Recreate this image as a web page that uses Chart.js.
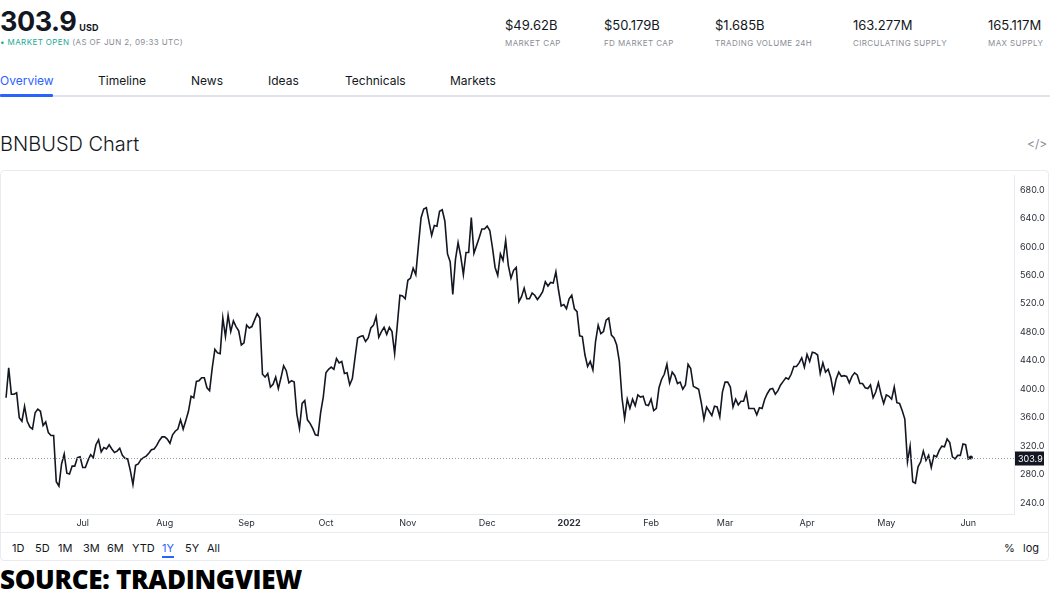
<!DOCTYPE html>
<html>
<head>
<meta charset="utf-8">
<script src="https://cdn.jsdelivr.net/npm/chart.js@4.4.1/dist/chart.umd.min.js"></script>
<style>
  body { margin: 0; width: 1050px; height: 600px; background: #fff; font-family: Inter, "Noto Sans", sans-serif; color: #131722; position: relative; overflow: hidden; }
  .abs { position: absolute; white-space: nowrap; }
  .stat-v { font-size: 13px; top: 17px; }
  .stat-l { font-size: 8px; top: 38px; color: #8a8d97; letter-spacing: 0.4px; }
  .tab { font-size: 12px; top: 73px; color: #131722; }
  .rng { font-size: 11px; top: 541px; color: #131722; }
  #box { position: absolute; left: 0; top: 170px; width: 1047px; height: 389px; border: 1px solid #e9ebf0; border-radius: 4px; }
  #wrap { position: absolute; left: 1px; top: 171px; width: 1047px; height: 361px; }
</style>
</head>
<body>
<div class="abs" style="left:0;top:5px;font-size:27px;font-weight:700;letter-spacing:-0.5px;">303.9<span style="font-size:9px;font-weight:700;margin-left:3px;letter-spacing:0.2px;">USD</span></div>
<div class="abs" style="left:0;top:37px;font-size:8px;letter-spacing:0.4px;"><span style="color:#22ab94;">• MARKET OPEN</span> <span style="color:#8a8d97;">(AS OF JUN 2, 09:33 UTC)</span></div>

<div class="abs stat-v" style="left:505px;">$49.62B</div><div class="abs stat-l" style="left:505px;">MARKET CAP</div>
<div class="abs stat-v" style="left:604px;">$50.179B</div><div class="abs stat-l" style="left:604px;">FD MARKET CAP</div>
<div class="abs stat-v" style="left:715px;">$1.685B</div><div class="abs stat-l" style="left:715px;">TRADING VOLUME 24H</div>
<div class="abs stat-v" style="left:853px;">163.277M</div><div class="abs stat-l" style="left:853px;">CIRCULATING SUPPLY</div>
<div class="abs stat-v" style="left:988px;">165.117M</div><div class="abs stat-l" style="left:988px;">MAX SUPPLY</div>

<div class="abs tab" style="left:0;color:#2962ff;">Overview</div>
<div class="abs tab" style="left:98px;">Timeline</div>
<div class="abs tab" style="left:191px;">News</div>
<div class="abs tab" style="left:268px;">Ideas</div>
<div class="abs tab" style="left:345px;">Technicals</div>
<div class="abs tab" style="left:450px;">Markets</div>
<div class="abs" style="left:0;top:95px;width:1050px;height:2px;background:#e0e3eb;"></div>
<div class="abs" style="left:0;top:94px;width:53px;height:3px;background:#2962ff;border-radius:1px;"></div>

<div class="abs" style="left:0;top:132px;font-size:20px;font-weight:300;">BNBUSD Chart</div>
<div class="abs" style="left:1027px;top:136px;font-size:12px;color:#8a8d97;">&lt;/&gt;</div>

<div id="box"></div>
<div id="wrap"><canvas id="c"></canvas></div>

<div class="abs" style="left:0;top:532px;width:1048px;height:1px;background:#e9ebf0;"></div>
<div class="abs rng" style="left:12px;">1D</div>
<div class="abs rng" style="left:35px;">5D</div>
<div class="abs rng" style="left:58px;">1M</div>
<div class="abs rng" style="left:83px;">3M</div>
<div class="abs rng" style="left:107px;">6M</div>
<div class="abs rng" style="left:132px;">YTD</div>
<div class="abs rng" style="left:162px;color:#2962ff;">1Y</div>
<div class="abs" style="left:162px;top:556px;width:12px;height:2px;background:#2962ff;"></div>
<div class="abs rng" style="left:185px;">5Y</div>
<div class="abs rng" style="left:207px;">All</div>
<div class="abs rng" style="left:1004px;">%</div>
<div class="abs rng" style="left:1023px;">log</div>

<div class="abs" style="left:0;top:561px;font-family:'Open Sans';font-size:26px;font-weight:800;color:#000;letter-spacing:-0.3px;">SOURCE: TRADINGVIEW</div>

<script>
// daily BNB close from 2021-06-02 (day 0) to 2022-06-02 (day 365)
const prices = [
  388, 430, 393, 393, 395, 360, 355, 376, 355, 347,
  344, 367, 372, 369, 349, 354, 339, 335, 335, 270,
  264, 295, 309, 282, 281, 292, 292, 304, 305, 290,
  290, 300, 308, 304, 322, 329, 312, 318, 316, 322,
  316, 311, 313, 317, 307, 303, 302, 286, 266, 293,
  295, 301, 304, 306, 310, 315, 316, 321, 328, 333,
  333, 330, 324, 336, 341, 344, 357, 344, 356, 369,
  390, 388, 411, 412, 416, 416, 402, 398, 430, 456,
  451, 450, 500, 474, 504, 481, 496, 488, 482, 462,
  465, 490, 486, 488, 497, 506, 500, 421, 417, 422,
  403, 407, 417, 401, 416, 433, 426, 409, 412, 410,
  365, 345, 380, 384, 357, 352, 345, 336, 335, 367,
  389, 423, 428, 431, 428, 443, 437, 439, 422, 423,
  406, 415, 444, 472, 474, 475, 467, 472, 486, 490,
  502, 473, 481, 487, 477, 487, 481, 450, 490, 532,
  531, 527, 553, 556, 570, 561, 602, 641, 653, 655,
  635, 616, 630, 629, 650, 652, 636, 590, 579, 533,
  582, 606, 587, 561, 592, 592, 641, 591, 602, 613,
  625, 625, 629, 623, 599, 571, 560, 590, 581, 609,
  574, 556, 567, 571, 523, 530, 542, 527, 527, 535,
  532, 526, 531, 537, 551, 545, 550, 549, 565, 539,
  517, 519, 513, 527, 532, 513, 509, 475, 474, 448,
  432, 439, 427, 467, 490, 478, 481, 497, 500, 476,
  472, 462, 439, 388, 359, 386, 373, 386, 377, 392,
  389, 390, 378, 377, 386, 370, 373, 402, 414, 421,
  435, 410, 424, 419, 408, 410, 400, 406, 435, 429,
  404, 402, 400, 381, 358, 375, 369, 363, 376, 375,
  361, 396, 410, 410, 403, 375, 386, 378, 383, 383,
  395, 373, 373, 373, 364, 374, 373, 386, 394, 400,
  401, 393, 398, 406, 411, 416, 414, 421, 432, 432,
  437, 444, 431, 449, 439, 452, 451, 448, 422, 437,
  424, 428, 416, 396, 414, 424, 418, 419, 418, 409,
  418, 423, 420, 408, 408, 402, 401, 406, 388, 396,
  409, 393, 380, 392, 390, 386, 403, 381, 380, 370,
  358, 298, 320, 270, 268, 291, 298, 313, 300, 307,
  290, 307, 305, 314, 320, 319, 330, 325, 305, 302,
  307, 307, 323, 322, 302, 303.9
];
const monthLabels = ['Jul', 'Aug', 'Sep', 'Oct', 'Nov', 'Dec', '2022', 'Feb', 'Mar', 'Apr', 'May', 'Jun'];
const monthStarts = [29, 60, 91, 121, 152, 182, 213, 244, 272, 303, 333, 364];
const yTicks = [240, 280, 320, 360, 400, 440, 480, 520, 560, 600, 640, 680];
const lastPrice = 303.9;

const points = prices.map((p, i) => ({ x: i, y: p }));

const priceLine = {
  id: 'priceLine',
  afterDatasetsDraw(chart) {
    const { ctx, chartArea, scales } = chart;
    const y = Math.round(scales.y.getPixelForValue(lastPrice)) + 0.5;
    ctx.save();
    ctx.strokeStyle = '#9598a1';
    ctx.lineWidth = 1;
    ctx.setLineDash([1, 2]);
    ctx.beginPath();
    ctx.moveTo(chartArea.left, y);
    ctx.lineTo(chartArea.right, y);
    ctx.stroke();
    ctx.setLineDash([]);
    ctx.fillStyle = '#131722';
    ctx.fillRect(chartArea.right + 1, y - 7, 29, 14);
    ctx.fillStyle = '#fff';
    ctx.font = '9px Inter, sans-serif';
    ctx.textBaseline = 'middle';
    ctx.fillText(lastPrice.toFixed(1), chartArea.right + 4, y + 0.5);
    ctx.restore();
  }
};

new Chart(document.getElementById('c'), {
  type: 'line',
  data: {
    datasets: [{
      data: points,
      borderColor: '#131722',
      borderWidth: 1.6,
      pointRadius: prices.map((p, i) => i === prices.length - 1 ? 2 : 0),
      pointBackgroundColor: '#131722',
      pointBorderWidth: 0,
      tension: 0,
      fill: false
    }]
  },
  options: {
    responsive: true,
    maintainAspectRatio: false,
    animation: false,
    layout: { padding: 0 },
    plugins: { legend: { display: false }, tooltip: { enabled: false } },
    scales: {
      x: {
        type: 'linear',
        min: -0.4,
        max: 381.3,
        afterFit: s => { s.height = 18; s.paddingLeft = 0; s.paddingRight = 0; },
        afterBuildTicks: s => { s.ticks = monthStarts.map(v => ({ value: v })); },
        grid: { display: false, drawTicks: false },
        border: { display: true, color: '#e9ebf0' },
        ticks: {
          autoSkip: false,
          maxRotation: 0,
          padding: 4,
          color: '#2a2e39',
          font: ctx => ({ size: 9, family: 'Inter, sans-serif', weight: ctx.tick && ctx.tick.value === 213 ? '700' : '400' }),
          callback: v => monthLabels[monthStarts.indexOf(v)]
        }
      },
      y: {
        position: 'right',
        min: 224.7,
        max: 700.9,
        afterFit: s => { s.width = 34; s.paddingTop = 0; s.paddingBottom = 0; },
        afterBuildTicks: s => { s.ticks = yTicks.map(v => ({ value: v })); },
        grid: { display: false, drawTicks: false },
        border: { display: true, color: '#e9ebf0' },
        ticks: {
          padding: 6,
          color: '#2a2e39',
          font: { size: 9, family: 'Inter, sans-serif' },
          callback: v => v.toFixed(1)
        }
      }
    }
  },
  plugins: [priceLine]
});
</script>
</body>
</html>
